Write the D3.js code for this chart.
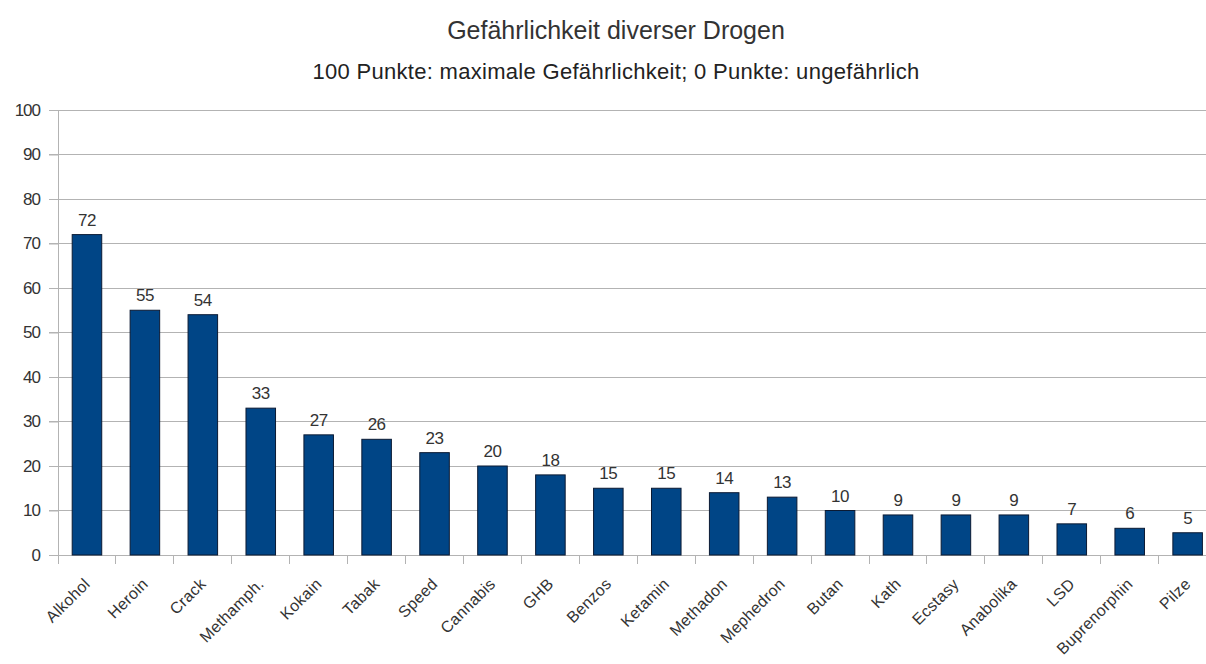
<!DOCTYPE html>
<html>
<head>
<meta charset="utf-8">
<script src="https://cdn.jsdelivr.net/npm/d3@7"></script>
<style>
  html, body { margin: 0; padding: 0; background: #fff; }
  svg { display: block; font-family: "Liberation Sans", Arial, sans-serif; }
</style>
</head>
<body>
<svg id="chart" width="1206" height="664"></svg>
<script>
// Drug names and their harm scores (0 = harmless, 100 = maximum harm)
const drugs = ["Alkohol", "Heroin", "Crack", "Methamph.", "Kokain", "Tabak", "Speed",
  "Cannabis", "GHB", "Benzos", "Ketamin", "Methadon", "Mephedron", "Butan", "Kath",
  "Ecstasy", "Anabolika", "LSD", "Buprenorphin", "Pilze"];
const scores = [72, 55, 54, 33, 27, 26, 23, 20, 18, 15, 15, 14, 13, 10, 9, 9, 9, 7, 6, 5];
const yTicks = [0, 10, 20, 30, 40, 50, 60, 70, 80, 90, 100];

const titleText = "Gefährlichkeit diverser Drogen";
const subtitleText = "100 Punkte: maximale Gefährlichkeit; 0 Punkte: ungefährlich";

const svg = d3.select("#chart");
const W = 1206, H = 664;

// Plot area (extends slightly past the right edge of the canvas)
const plotLeft = 58, plotRight = 1216.6, plotTop = 110, plotBottom = 555;

const x = d3.scaleBand().domain(drugs).range([plotLeft, plotRight]).paddingInner(0.49).paddingOuter(0.245);
const xEdges = d3.scaleLinear().domain([0, drugs.length]).range([plotLeft, plotRight]);
const y = d3.scaleLinear().domain([0, 100]).range([plotBottom, plotTop]);

// Titles
svg.append("text").attr("x", 616).attr("y", 39).attr("text-anchor", "middle")
  .attr("font-size", 25).attr("fill", "#333").text(titleText);
svg.append("text").attr("x", 616).attr("y", 79).attr("text-anchor", "middle")
  .attr("font-size", 22).attr("fill", "#222").attr("letter-spacing", 0.3).text(subtitleText);

// Horizontal grid lines
svg.append("g").selectAll("line").data(yTicks).join("line")
  .attr("x1", plotLeft - 9).attr("x2", W)
  .attr("y1", d => y(d)).attr("y2", d => y(d))
  .attr("stroke", "#b3b3b3").attr("stroke-width", 1)
  .attr("shape-rendering", "crispEdges");

// Y axis
const yAxis = svg.append("g").attr("transform", `translate(${plotLeft},0)`)
  .call(d3.axisLeft(y).tickValues(yTicks).tickSize(9).tickPadding(9));
yAxis.select(".domain").attr("stroke", "#b3b3b3");
yAxis.selectAll(".tick line").attr("stroke", "#b3b3b3");
yAxis.selectAll(".tick text").attr("font-size", 17).attr("fill", "#333")
  .attr("font-family", "Liberation Sans, Arial, sans-serif").attr("letter-spacing", -1);

// X axis baseline with category separators
svg.append("line").attr("x1", plotLeft).attr("x2", W).attr("y1", plotBottom).attr("y2", plotBottom)
  .attr("stroke", "#b3b3b3").attr("shape-rendering", "crispEdges");
svg.append("g").selectAll("line").data(d3.range(drugs.length + 1)).join("line")
  .attr("x1", d => xEdges(d)).attr("x2", d => xEdges(d))
  .attr("y1", plotBottom).attr("y2", plotBottom + 9)
  .attr("stroke", "#b3b3b3").attr("shape-rendering", "crispEdges");

// Bars
svg.append("g").selectAll("rect").data(drugs).join("rect")
  .attr("x", d => x(d)).attr("width", x.bandwidth())
  .attr("y", (d, i) => y(scores[i])).attr("height", (d, i) => plotBottom - y(scores[i]))
  .attr("fill", "#004586").attr("stroke", "#0b1a33").attr("stroke-width", 1);

// Value labels
svg.append("g").selectAll("text").data(drugs).join("text")
  .attr("x", d => x(d) + x.bandwidth() / 2)
  .attr("y", (d, i) => y(scores[i]) - 9)
  .attr("text-anchor", "middle").attr("font-size", 17).attr("fill", "#333")
  .attr("letter-spacing", -0.5)
  .text((d, i) => scores[i]);

// Rotated category labels
svg.append("g").selectAll("text").data(drugs).join("text")
  .attr("transform", d => `translate(${x(d) + x.bandwidth() / 2 + 4},${plotBottom + 30}) rotate(-45)`)
  .attr("text-anchor", "end").attr("font-size", 16).attr("fill", "#333")
  .attr("letter-spacing", 0.3)
  .text(d => d);
</script>
</body>
</html>
